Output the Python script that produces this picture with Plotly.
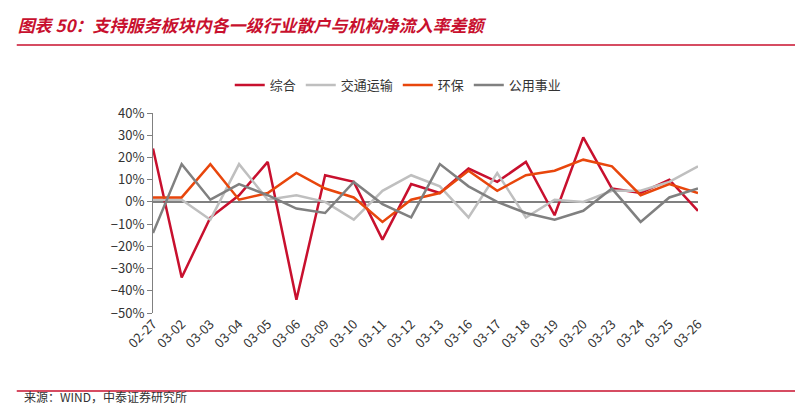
import plotly.graph_objects as go

dates = ["02-27","03-02","03-03","03-04","03-05","03-06","03-09","03-10","03-11","03-12","03-13","03-16","03-17","03-18","03-19","03-20","03-23","03-24","03-25","03-26"]
zonghe = [24,-34,-7,3,18,-44,12,9,-17,8,4,15,9,18,-6,29,6,4,10,-4]
jiaotong = [1,1,-8,17,1,3,0,-8,5,12,7,-7,13,-7,1,0,5,5,9,16]
huanbao = [2,2,17,1,4,13,6,2,-9,1,4,14,5,12,14,19,16,3,8,4]
gongyong = [-14,17,1,8,3,-3,-5,9,-1,-7,17,7,0,-5,-8,-4,6,-9,2,6]

series = [("综合", zonghe, "#C8102E"), ("交通运输", jiaotong, "#BFBFBF"),
          ("环保", huanbao, "#E8460C"), ("公用事业", gongyong, "#808080")]
fig = go.Figure()
for name, vals, col in series:
    fig.add_trace(go.Scatter(x=dates, y=[v/100 for v in vals], name=name, mode="lines",
                             line=dict(color=col, width=2.5)))
font = "Noto Sans CJK SC"
fig.update_layout(
    width=803, height=405, paper_bgcolor="white", plot_bgcolor="white",
    margin=dict(l=145, r=113, t=105, b=100),
    font=dict(family=font, size=13, color="#333"),
    legend=dict(orientation="h", x=0.45, xanchor="center", y=1.14, yanchor="middle",
                font=dict(size=13)),
    xaxis=dict(type="category", tickangle=-45, showline=False, ticks="", showgrid=False),
    yaxis=dict(range=[-0.5, 0.4], dtick=0.1, tickformat=".0%", showgrid=False,
               showline=True, linecolor="#808080", ticks="outside", tickcolor="#808080",
               zeroline=True, zerolinecolor="#808080", zerolinewidth=1.5),
    title=dict(text="<b><i>图表 50：支持服务板块内各一级行业散户与机构净流入率差额</i></b>",
               x=0.012, y=1-18/405, yanchor="middle", xanchor="left", font=dict(size=17, color="#C8102E")),
    shapes=[dict(type="line", xref="paper", yref="paper", x0=-0.25, x1=1.2, y0=1.34, y1=1.34,
                 line=dict(color="#C8102E", width=1.5)),
            dict(type="line", xref="paper", yref="paper", x0=-0.25, x1=1.2, y0=-0.39, y1=-0.39,
                 line=dict(color="#C8102E", width=1.5))],
    annotations=[dict(text="来源：WIND，中泰证券研究所", xref="paper", yref="paper",
                      x=-0.24, y=-0.47, xanchor="left", showarrow=False, font=dict(size=12, color="#333"))],
)
fig.write_html("out.html")
